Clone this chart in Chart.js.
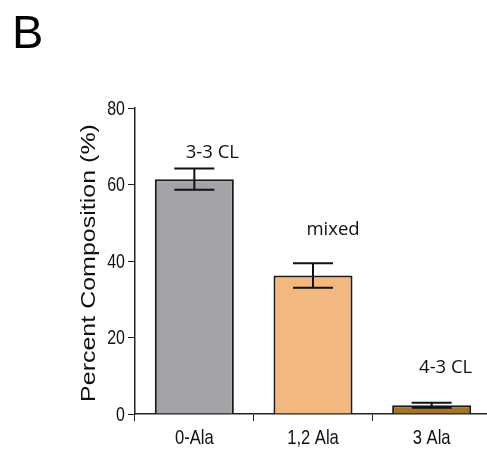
<!DOCTYPE html>
<html>
<head>
<meta charset="utf-8">
<script src="https://cdn.jsdelivr.net/npm/chart.js@4.4.1/dist/chart.umd.min.js"></script>
<style>
  html, body { margin: 0; padding: 0; background: #fff; overflow: hidden; }
  #wrap { position: relative; width: 487px; height: 451px; overflow: hidden; }
  #panel {
    position: absolute; left: 12px; top: 8px;
    font: 47px "Liberation Sans", Arial, sans-serif; line-height: 47px; color: #000;
  }
  canvas { position: absolute; left: 0; top: 0; }
</style>
</head>
<body>
<div id="wrap">
  <canvas id="compChart" width="492" height="451"></canvas>
  <div id="panel">B</div>
</div>
<script>
  const categories = ["0-Ala", "1,2 Ala", "3 Ala"];
  const composition = [61.4, 36.2, 2.3];
  const semValues = [2.8, 3.2, 0.65];
  const groupLabels = ["3-3 CL", "mixed", "4-3 CL"];
  const yTickValues = [0, 20, 40, 60, 80];

  const tickFont = '21px "Liberation Sans", Arial, sans-serif';
  const titleFont = '20px "Liberation Sans", Arial, sans-serif';

  // error bars with caps, drawn on top of the bars
  const errorBars = {
    id: "errorBars",
    afterDatasetsDraw(chart) {
      const ctx = chart.ctx;
      const meta = chart.getDatasetMeta(0);
      const y = chart.scales.y;
      ctx.save();
      ctx.strokeStyle = "#111";
      ctx.lineWidth = 2;
      meta.data.forEach((bar, i) => {
        const top = y.getPixelForValue(composition[i] + semValues[i]);
        const bot = y.getPixelForValue(composition[i] - semValues[i]);
        ctx.beginPath();
        ctx.moveTo(bar.x, top);
        ctx.lineTo(bar.x, bot);
        ctx.moveTo(bar.x - 20, top);
        ctx.lineTo(bar.x + 20, top);
        ctx.moveTo(bar.x - 20, bot);
        ctx.lineTo(bar.x + 20, bot);
        ctx.stroke();
      });
      ctx.restore();
    },
  };

  // group names above the bars
  const groupText = {
    id: "groupText",
    afterDraw(chart, args, opts) {
      const ctx = chart.ctx;
      const meta = chart.getDatasetMeta(0);
      const y = chart.scales.y;
      ctx.save();
      ctx.font = '18.5px "Open Sans", sans-serif';
      ctx.fillStyle = "#111";
      ctx.textAlign = "center";
      ctx.textBaseline = "middle";
      meta.data.forEach((bar, i) => {
        ctx.fillText(groupLabels[i], bar.x + opts.dx[i], y.getPixelForValue(opts.at[i]));
      });
      ctx.restore();
    },
  };

  // tick labels in a condensed face, plus the stretched y title
  const axisText = {
    id: "axisText",
    afterDraw(chart) {
      const ctx = chart.ctx;
      const xs = chart.scales.x;
      const ys = chart.scales.y;
      const area = chart.chartArea;
      ctx.save();
      ctx.fillStyle = "#111";
      ctx.font = tickFont;

      ys.ticks.forEach((t, i) => {
        ctx.save();
        ctx.translate(125, ys.getPixelForTick(i));
        ctx.scale(0.76, 1);
        ctx.textAlign = "right";
        ctx.textBaseline = "middle";
        ctx.fillText(String(t.value), 0, 1);
        ctx.restore();
      });

      xs.ticks.forEach((t, i) => {
        ctx.save();
        ctx.translate(xs.getPixelForTick(i), 443.5);
        ctx.scale(0.79, 1);
        ctx.textAlign = "center";
        ctx.textBaseline = "alphabetic";
        ctx.fillText(categories[t.value], 0, 0);
        ctx.restore();
      });

      ctx.font = titleFont;
      ctx.translate(89, (area.top + area.bottom) / 2 + 2);
      ctx.rotate(-Math.PI / 2);
      ctx.scale(1.25, 1);
      ctx.textAlign = "center";
      ctx.textBaseline = "middle";
      ctx.fillText("Percent Composition (%)", 0, 0);
      ctx.restore();
    },
  };

  const hidden = "rgba(0,0,0,0)";

  new Chart(document.getElementById("compChart"), {
    type: "bar",
    data: {
      labels: categories,
      datasets: [
        {
          data: composition,
          backgroundColor: ["#a3a3a8", "#f3b87f", "#a5742c"],
          borderColor: "#1a1a1a",
          borderWidth: 2,
          borderSkipped: "bottom",
          barPercentage: 0.666,
          categoryPercentage: 1,
        },
      ],
    },
    options: {
      responsive: false,
      animation: false,
      layout: { padding: { top: 108, left: 0, right: 1, bottom: 0 } },
      plugins: {
        legend: { display: false },
        tooltip: { enabled: false },
        groupText: { dx: [18, 20, 14], at: [68.2, 48.1, 12] },
      },
      scales: {
        x: {
          grid: { display: true, drawOnChartArea: false, drawTicks: true, tickLength: 7, color: "#222", offset: true },
          border: { color: "#222", width: 1.5 },
          ticks: { color: hidden, font: { size: 20 }, padding: 3, maxRotation: 0 },
          afterFit(scale) { scale.height = 37; },
        },
        y: {
          min: 0,
          max: 80,
          afterBuildTicks(scale) { scale.ticks = yTickValues.map((v) => ({ value: v })); },
          grid: { drawOnChartArea: false, drawTicks: true, tickLength: 7, color: "#222" },
          border: { color: "#222", width: 1.5 },
          ticks: { color: hidden, font: { size: 20 }, padding: 3 },
          afterFit(scale) { scale.width = 135; },
        },
      },
    },
    plugins: [errorBars, groupText, axisText],
  });
</script>
</body>
</html>
